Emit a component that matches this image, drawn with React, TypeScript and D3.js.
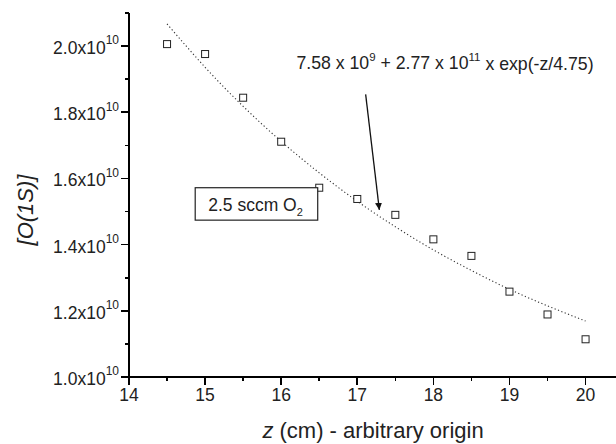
import React, { useEffect, useRef } from 'react';
import * as d3 from 'd3';

// measured positions along the tube (cm) and the O(1S) density
const zValues = [14.5, 15, 15.5, 16, 16.5, 17, 17.5, 18, 18.5, 19, 19.5, 20];
const densities = [2.006e10, 1.976e10, 1.844e10, 1.711e10, 1.572e10, 1.538e10, 1.49e10, 1.416e10, 1.366e10, 1.258e10, 1.189e10, 1.114e10];

// dotted fit curve at the same z steps
const fitZ = [14.5, 15, 15.5, 16, 16.5, 17, 17.5, 18, 18.5, 19, 19.5, 20];
const fitValues = [2.067e10, 1.936e10, 1.818e10, 1.712e10, 1.617e10, 1.531e10, 1.454e10, 1.384e10, 1.322e10, 1.265e10, 1.215e10, 1.169e10];

const xTicks = [14, 15, 16, 17, 18, 19, 20];
const xMinorTicks = [14.5, 15.5, 16.5, 17.5, 18.5, 19.5];
const yTicks = [1.0e10, 1.2e10, 1.4e10, 1.6e10, 1.8e10, 2.0e10];
const yMinorTicks = [1.1e10, 1.3e10, 1.5e10, 1.7e10, 1.9e10, 2.1e10];

const fitLabel = ['7.58 x 10', '9', ' + 2.77 x 10', '11', ' x exp(-z/4.75)'];
const legendLabel = ['2.5 sccm O', '2'];

const W = 616;
const H = 444;
const FONT = '"Liberation Sans", Arial, sans-serif';

const App: React.FC = () => {
  const svgRef = useRef<SVGSVGElement | null>(null);

  useEffect(() => {
    const svg = d3.select(svgRef.current);
    svg.selectAll('*').remove();

    const left = 129;
    const top = 13;
    const bottom = 377;
    const right = W;

    const x = d3.scaleLinear().domain([14, 20.4]).range([left, right]);
    const y = d3.scaleLinear().domain([1.0e10, 2.1e10]).range([bottom, top]);

    const styleLines = (g: d3.Selection<SVGGElement, unknown, null, undefined>) => {
      g.select('.domain').attr('stroke', '#000').attr('stroke-width', 2).attr('shape-rendering', 'crispEdges');
      g.selectAll('.tick line').attr('stroke', '#000').attr('stroke-width', 1.6).attr('shape-rendering', 'crispEdges');
    };

    // axes
    const xAxis = svg.append('g').attr('transform', `translate(0,${bottom})`);
    xAxis.call(d3.axisBottom(x).tickValues(xTicks).tickSize(8).tickSizeOuter(0).offset(0).tickFormat(d3.format('d')));
    styleLines(xAxis);
    xAxis.selectAll('.tick text')
      .attr('font-family', FONT)
      .attr('font-size', 17.5)
      .attr('fill', '#222')
      .attr('y', 11)
      .attr('dy', '0.75em');
    const xMinor = svg.append('g').attr('transform', `translate(0,${bottom})`);
    xMinor.call(d3.axisBottom(x).tickValues(xMinorTicks).tickSize(4).tickSizeOuter(0).offset(0).tickFormat(() => ''));
    styleLines(xMinor);
    xMinor.select('.domain').remove();

    const yAxis = svg.append('g').attr('transform', `translate(${left},0)`);
    yAxis.call(d3.axisLeft(y).tickValues(yTicks).tickSize(8).tickSizeOuter(0).offset(0).tickFormat(() => ''));
    styleLines(yAxis);
    yAxis.selectAll<SVGTextElement, number>('.tick text')
      .attr('font-family', FONT)
      .attr('font-size', 17.5)
      .attr('fill', '#222')
      .attr('x', -10)
      .attr('dy', '0.45em')
      .each(function (d) {
        const t = d3.select(this);
        t.text(null);
        t.append('tspan').text(`${(d / 1e10).toFixed(1)}x10`);
        t.append('tspan').attr('font-size', 12).attr('dy', '-0.8em').text('10');
      });
    const yMinor = svg.append('g').attr('transform', `translate(${left},0)`);
    yMinor.call(d3.axisLeft(y).tickValues(yMinorTicks).tickSize(4).tickSizeOuter(0).offset(0).tickFormat(() => ''));
    styleLines(yMinor);
    yMinor.select('.domain').remove();

    // fit curve
    const line = d3.line<number>()
      .x((_, i) => x(fitZ[i]))
      .y(d => y(d))
      .curve(d3.curveNatural);
    svg.append('path')
      .attr('d', line(fitValues))
      .attr('fill', 'none')
      .attr('stroke', '#333')
      .attr('stroke-width', 1.1)
      .attr('stroke-dasharray', '1.2,2.4');

    // data points
    svg.append('g')
      .selectAll('rect')
      .data(densities)
      .enter()
      .append('rect')
      .attr('x', (_, i) => x(zValues[i]) - 3.5)
      .attr('y', d => y(d) - 3.5)
      .attr('width', 7)
      .attr('height', 7)
      .attr('fill', '#fff')
      .attr('stroke', '#222')
      .attr('stroke-width', 1);

    // fit annotation text, placed in data units
    const ann = svg.append('text')
      .attr('x', x(16.2))
      .attr('y', y(1.93e10))
      .attr('font-family', FONT)
      .attr('font-size', 17.7)
      .attr('fill', '#222');
    fitLabel.forEach((s, i) => {
      const sup = i % 2 === 1;
      ann.append('tspan')
        .attr('font-size', sup ? 11.5 : 17.7)
        .attr('dy', sup ? '-0.75em' : i > 0 ? '0.5em' : 0)
        .text(s);
    });

    // arrow pointing to the curve
    const defs = svg.append('defs');
    defs.append('marker')
      .attr('id', 'head')
      .attr('viewBox', '0 0 10 10')
      .attr('refX', 10)
      .attr('refY', 5)
      .attr('markerWidth', 7)
      .attr('markerHeight', 12)
      .attr('markerUnits', 'userSpaceOnUse')
      .attr('orient', 'auto')
      .append('path')
      .attr('d', 'M0,0 L10,5 L0,10 Z')
      .attr('fill', '#111');
    svg.append('line')
      .attr('x1', x(17.11)).attr('y1', y(1.854e10))
      .attr('x2', x(17.29)).attr('y2', y(1.505e10))
      .attr('stroke', '#111')
      .attr('stroke-width', 1.3)
      .attr('marker-end', 'url(#head)');

    // legend box
    const bx0 = x(14.87), bx1 = x(16.48);
    const by0 = y(1.572e10), by1 = y(1.474e10);
    svg.append('rect')
      .attr('x', bx0).attr('y', by0)
      .attr('width', bx1 - bx0).attr('height', by1 - by0)
      .attr('fill', '#fff')
      .attr('stroke', '#222')
      .attr('stroke-width', 1.2);
    const leg = svg.append('text')
      .attr('x', bx0 + 13)
      .attr('y', by0 + 23)
      .attr('font-family', FONT)
      .attr('font-size', 17.5)
      .attr('fill', '#222');
    leg.append('tspan').text(legendLabel[0]);
    leg.append('tspan').attr('font-size', 11).attr('dy', '0.45em').text(legendLabel[1]);

    // axis titles
    const xt = svg.append('text')
      .attr('x', 373)
      .attr('y', 438)
      .attr('text-anchor', 'middle')
      .attr('font-family', FONT)
      .attr('font-size', 22)
      .attr('fill', '#222');
    xt.append('tspan').attr('font-style', 'italic').text('z');
    xt.append('tspan').text(' (cm) - arbitrary origin');

    svg.append('text')
      .attr('transform', `translate(33,${210}) rotate(-90)`)
      .attr('text-anchor', 'middle')
      .attr('font-family', FONT)
      .attr('font-size', 22)
      .attr('font-style', 'italic')
      .attr('fill', '#222')
      .text('[O(1S)]');
  }, []);

  return (
    <svg
      ref={svgRef}
      width={W}
      height={H}
      style={{ position: 'absolute', left: 0, top: 0, background: '#fff' }}
    />
  );
};

export default App;
